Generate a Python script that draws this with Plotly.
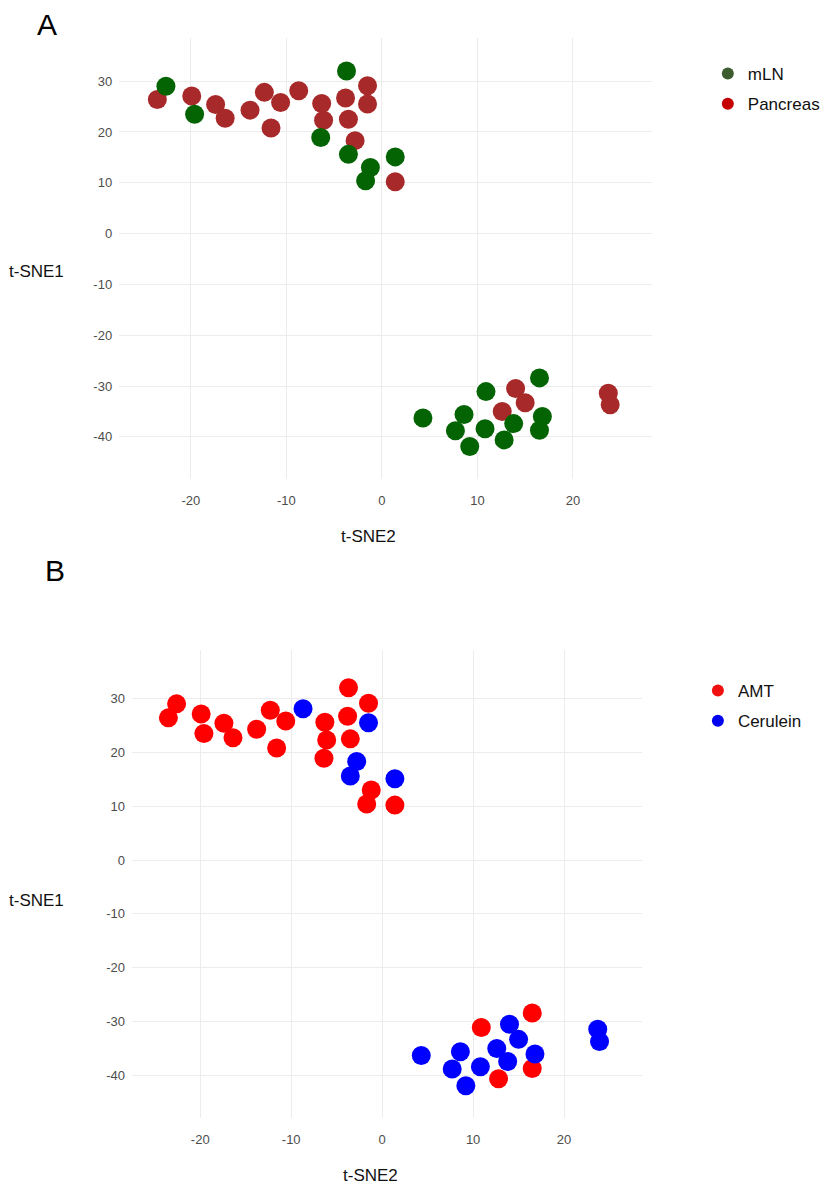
import plotly.graph_objects as go

# ---- data (t-SNE coordinates) ----
tsne2 = [-22.6, -19.6, -3.7, -6.4, -3.5, -1.2, -1.7, 1.4,
         -23.5, -19.9, -17.4, -16.4, -13.8, -12.3, -11.6, -10.6, -8.7, -6.3, -6.1,
         -3.8, -3.5, -2.8, -1.5, -1.5, 1.4,
         4.3, 8.6, 7.7, 9.2, 10.9, 10.8, 12.8, 13.8, 16.5, 16.8, 16.5,
         14.0, 15.0, 12.6, 23.7, 23.9]
tsne1 = [29.0, 23.5, 32.0, 18.9, 15.6, 13.0, 10.4, 15.1,
         26.4, 27.1, 25.4, 22.7, 24.3, 27.8, 20.8, 25.8, 28.1, 25.6, 22.3,
         26.7, 22.5, 18.3, 29.1, 25.5, 10.2,
         -36.3, -35.6, -38.8, -41.9, -31.1, -38.4, -40.6, -37.4, -28.4, -36.0, -38.7,
         -30.5, -33.3, -35.0, -31.4, -33.7]
tissue = (["mLN"] * 8 + ["Pancreas"] * 17 + ["mLN"] * 11 + ["Pancreas"] * 5)
treatment = ["AMT", "AMT", "AMT", "AMT", "Cerulein", "AMT", "AMT", "Cerulein",
             "AMT", "AMT", "AMT", "AMT", "AMT", "AMT", "AMT", "AMT", "Cerulein", "AMT", "AMT",
             "AMT", "AMT", "Cerulein", "AMT", "Cerulein", "AMT",
             "Cerulein", "Cerulein", "Cerulein", "Cerulein", "AMT", "Cerulein", "AMT",
             "Cerulein", "AMT", "Cerulein", "AMT",
             "Cerulein", "Cerulein", "Cerulein", "Cerulein", "Cerulein"]

tissue_groups = ["Pancreas", "mLN"]
tissue_colors = {"mLN": "#046404", "Pancreas": "#a8292a"}
tissue_legend_colors = {"mLN": "#3e5d2e", "Pancreas": "#c40000"}
treatment_groups = ["AMT", "Cerulein"]
treatment_colors = {"AMT": "#ff0000", "Cerulein": "#0000ff"}
treatment_legend_colors = {"AMT": "#f01010", "Cerulein": "#0000f0"}

x_tick_vals = [-20, -10, 0, 10, 20]
x_tick_text = ["-20", "-10", "0", "10", "20"]
y_tick_vals = [-40, -30, -20, -10, 0, 10, 20, 30]
y_tick_text = ["-40", "-30", "-20", "-10", "0", "10", "20", "30"]

W, H = 825, 1186

def px(x):
    return x / W

def py(y):
    return 1 - y / H

fig = go.Figure()

# Panel A points
for g in tissue_groups:
    xs = [x for x, t in zip(tsne2, tissue) if t == g]
    ys = [y for y, t in zip(tsne1, tissue) if t == g]
    fig.add_trace(go.Scatter(x=xs, y=ys, mode="markers", xaxis="x", yaxis="y",
                             marker=dict(size=19, color=tissue_colors[g]),
                             showlegend=False, name=g))
for g in ["mLN", "Pancreas"]:
    fig.add_trace(go.Scatter(x=[None], y=[None], mode="markers", xaxis="x", yaxis="y",
                             marker=dict(size=12, color=tissue_legend_colors[g]),
                             name=g, legend="legend", legendgroup="A" + g))

# Panel B points
for g in treatment_groups:
    xs = [x for x, t in zip(tsne2, treatment) if t == g]
    ys = [y for y, t in zip(tsne1, treatment) if t == g]
    fig.add_trace(go.Scatter(x=xs, y=ys, mode="markers", xaxis="x2", yaxis="y2",
                             marker=dict(size=19, color=treatment_colors[g]),
                             showlegend=False, name=g))
for g in treatment_groups:
    fig.add_trace(go.Scatter(x=[None], y=[None], mode="markers", xaxis="x2", yaxis="y2",
                             marker=dict(size=12, color=treatment_legend_colors[g]),
                             name=g, legend="legend2", legendgroup="B" + g))

tickfont = dict(family="Liberation Sans, Arial", size=13, color="#4d4d4d")
grid = "#ececec"

def xax(domain, rng, anchor):
    return dict(domain=domain, range=rng, anchor=anchor, tickvals=x_tick_vals,
                ticktext=x_tick_text,
                showgrid=True, gridcolor=grid, gridwidth=1, zeroline=False,
                showline=False, ticks="", tickfont=tickfont, ticklabelstandoff=12)

def yax(domain, rng, anchor):
    return dict(domain=domain, range=rng, anchor=anchor, tickvals=y_tick_vals,
                ticktext=y_tick_text,
                showgrid=True, gridcolor=grid, gridwidth=1, zeroline=False,
                showline=False, ticks="", tickfont=tickfont, ticklabelstandoff=6)

legend_font = dict(family="Liberation Sans, Arial", size=17, color="#111111")

fig.update_layout(
    width=W, height=H,
    margin=dict(l=0, r=0, t=0, b=0),
    paper_bgcolor="white", plot_bgcolor="white",
    xaxis=xax([px(120), px(657)], [-27.5, 28.3], "y"),
    yaxis=yax([py(479), py(38)], [-48.3, 38.5], "x"),
    xaxis2=xax([px(133), px(647)], [-27.5, 28.6], "y2"),
    yaxis2=yax([py(1118), py(650)], [-47.9, 39.0], "x2"),
    legend=dict(x=px(713), y=py(56), xanchor="left", yanchor="top",
                font=legend_font, bgcolor="rgba(0,0,0,0)", itemwidth=30,
                tracegroupgap=5),
    legend2=dict(x=px(703), y=py(673), xanchor="left", yanchor="top",
                 font=legend_font, bgcolor="rgba(0,0,0,0)", itemwidth=30,
                 tracegroupgap=5),
)

ann_font = dict(family="Liberation Sans, Arial", size=17, color="#111111")
annotations = [
    dict(text="A", x=px(47), y=py(25), font=dict(family="Liberation Sans, Arial", size=30, color="black")),
    dict(text="B", x=px(55), y=py(570), font=dict(family="Liberation Sans, Arial", size=30, color="black")),
    dict(text="t-SNE1", x=px(37), y=py(272), font=ann_font),
    dict(text="t-SNE2", x=px(371), y=py(537), font=ann_font),
    dict(text="t-SNE1", x=px(37), y=py(900), font=ann_font),
    dict(text="t-SNE2", x=px(373), y=py(1175), font=ann_font),
]
for a in annotations:
    a.update(xref="paper", yref="paper", showarrow=False, xanchor="center", yanchor="middle")
fig.update_layout(annotations=annotations)

fig.write_html(
    "out.html",
    config={"displayModeBar": False},
    post_script="document.body.style.margin='0';document.body.style.overflow='hidden';",
)
